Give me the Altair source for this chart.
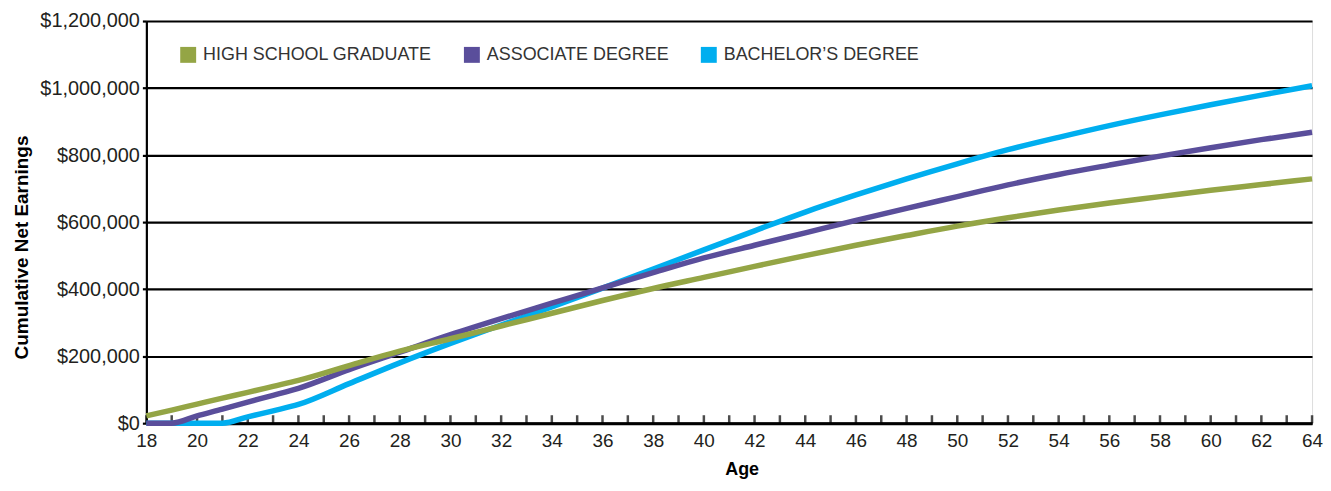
import altair as alt
import pandas as pd

ages = [18, 19, 20, 21, 22, 23, 24, 26, 28, 30, 32, 34, 36, 38, 40, 42, 44, 46, 48, 50, 52, 54, 56, 58, 60, 62, 64]

high_school = [22000, 39000, 57000, 75000, 92000, 110000, 128000, 172000, 215000, 252000, 290000, 328000, 366000, 402000, 435000, 468000, 500000, 531000, 560000, 588000, 613000, 636000, 657000, 676000, 695000, 712000, 729000]
associate = [0, 0, 22000, 42000, 63000, 83000, 104000, 160000, 212000, 264000, 312000, 358000, 404000, 449000, 493000, 531000, 568000, 605000, 641000, 676000, 711000, 742000, 770000, 797000, 822000, 846000, 868000]
bachelor = [0, 0, 0, 0, 19000, 37000, 56000, 118000, 180000, 238000, 293000, 347000, 403000, 460000, 517000, 574000, 630000, 681000, 729000, 774000, 816000, 853000, 888000, 920000, 950000, 979000, 1007000]

series_names = ["HIGH SCHOOL GRADUATE", "ASSOCIATE DEGREE", "BACHELOR\u2019S DEGREE"]
series_colors = ["#94A545", "#5A4E9B", "#00AEEF"]

tick_ages = list(range(18, 65))
y_ticks = [0, 200000, 400000, 600000, 800000, 1000000, 1200000]

rows = []
for name, vals in [(series_names[2], bachelor), (series_names[1], associate), (series_names[0], high_school)]:
    for a, v in zip(ages, vals):
        rows.append({"Age": a, "Earnings": v, "Series": name})
df = pd.DataFrame(rows)
ticks_df = pd.DataFrame({"Age": tick_ages})

FONT = "Liberation Sans"

x_scale = alt.Scale(domain=[18, 64], nice=False, zero=False)
y_scale = alt.Scale(domain=[0, 1200000], nice=False)

lines = alt.Chart(df).mark_line(strokeWidth=5.5, strokeJoin="round", strokeCap="butt",
                                interpolate="monotone").encode(
    x=alt.X("Age:Q", scale=x_scale, title="Age",
            axis=alt.Axis(values=[a for a in tick_ages if a % 2 == 0], ticks=False,
                          domainColor="black", domainWidth=3, labelPadding=8,
                          labelFontSize=19, labelFont=FONT, labelColor="#231F20",
                          titleFont=FONT, titleFontSize=18, titleFontWeight="bold",
                          titleColor="black", titlePadding=11, titleX=598,
                          grid=False, labelFlush=False)),
    y=alt.Y("Earnings:Q", scale=y_scale, title="Cumulative Net Earnings",
            axis=alt.Axis(values=y_ticks, format="$,.0f", grid=True, gridColor="black",
                          gridWidth=2.2, domainColor="black", domainWidth=2.2,
                          tickColor="black", tickSize=4, tickWidth=2.2, labelPadding=3,
                          labelFontSize=20, labelFont=FONT, labelColor="#231F20",
                          titleFont=FONT, titleFontSize=19, titleFontWeight="bold",
                          titleColor="black", titlePadding=8, titleY=227)),
    color=alt.Color("Series:N",
                    scale=alt.Scale(domain=series_names, range=series_colors),
                    legend=alt.Legend(orient="none", legendX=33, legendY=25,
                                      direction="horizontal", title=None,
                                      symbolType="square", symbolSize=64,
                                      symbolStrokeWidth=8, labelFontSize=18,
                                      labelFont=FONT, labelColor="#333333",
                                      labelOffset=6, columnPadding=20, padding=0,
                                      labelLimit=0, symbolOpacity=1)),
)

ticks = alt.Chart(ticks_df).mark_tick(orient="vertical", size=8, thickness=2.5, color="black").encode(
    x=alt.X("Age:Q", scale=x_scale),
    y=alt.datum(0),
    yOffset=alt.value(-4),
)

chart = alt.layer(ticks, lines).properties(
    width=1171, height=404,
    autosize=alt.AutoSizeParams(type="none"),
    padding={"left": 139, "top": 12, "right": 11, "bottom": 59}
).configure_view(fill="#FDF6E5", stroke=None).configure(background="white")

chart.save("out.html", embed_options={"renderer": "svg", "actions": False})
